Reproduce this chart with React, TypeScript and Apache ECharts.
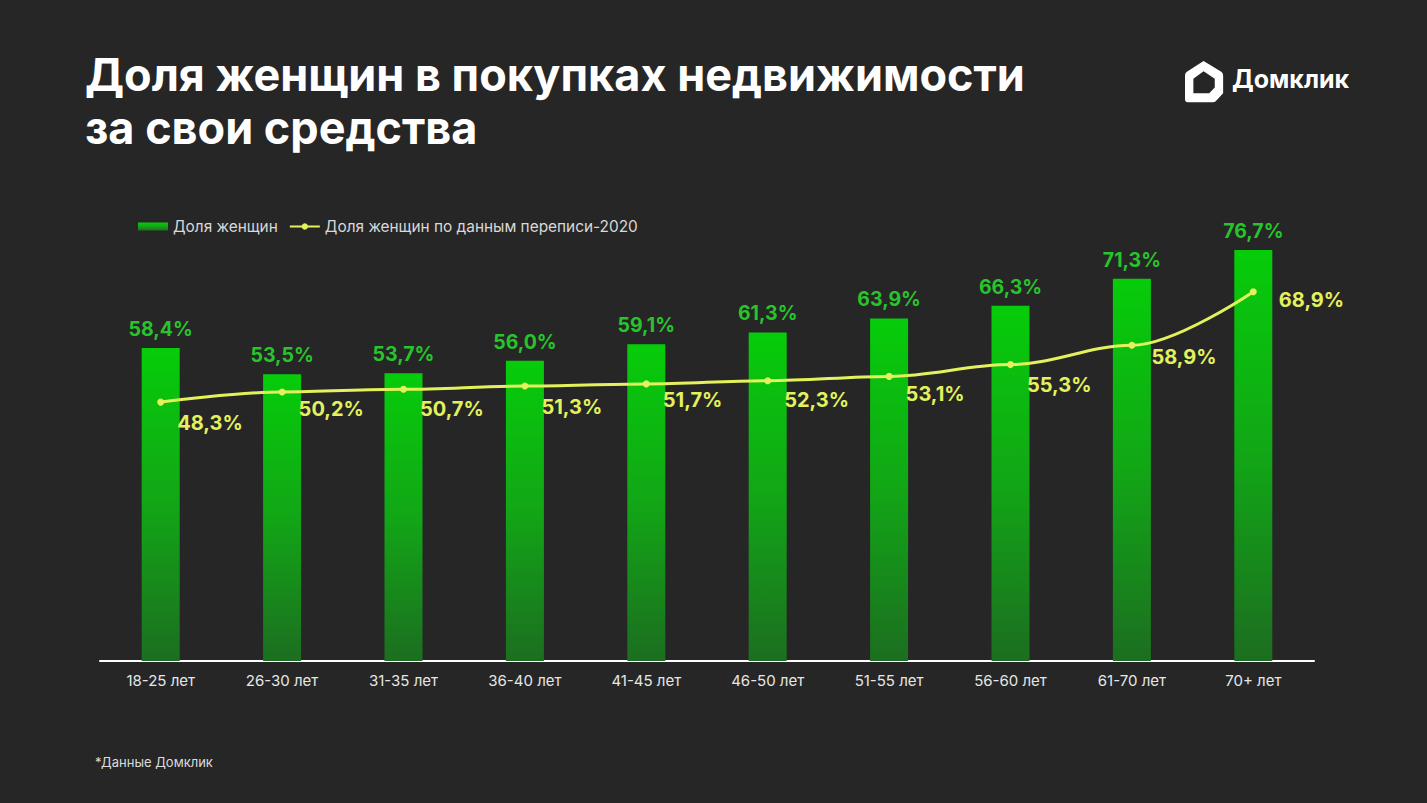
import React, { useEffect, useRef } from "react";
import * as echarts from "echarts";

const categories = ["18-25 лет", "26-30 лет", "31-35 лет", "36-40 лет", "41-45 лет", "46-50 лет", "51-55 лет", "56-60 лет", "61-70 лет", "70+ лет"];
const womenShare = [58.4, 53.5, 53.7, 56.0, 59.1, 61.3, 63.9, 66.3, 71.3, 76.7];
const censusShare = [48.3, 50.2, 50.7, 51.3, 51.7, 52.3, 53.1, 55.3, 58.9, 68.9];
const censusLabelDx = [0, 0, 0, 0, 0, 0, 0, 0, 3, 9];
const censusLabelDy = [21, 17, 20, 21, 16, 19, 18, 20, 12, 8];

const FONT = "Inter, 'Noto Sans', sans-serif";
const fmt = (v: number) => v.toFixed(1).replace(".", ",") + "%";

const LOGO_PATH =
  "M20 0 L39 11 Q41 12 41 15 L41 33 L33 41 Q32 42 30 42 L3 42 Q0 42 0 39 L0 15 Q0 12 2 11 Z " +
  "M9 18 L9 33 L26 33 L32 27 L32 18 L20 10.5 Z";

echarts.graphic.registerShape("domLogo", (echarts.graphic as any).extendPath(LOGO_PATH, {}));

export default function App() {
  const ref = useRef<HTMLDivElement>(null);
  useEffect(() => {
    document.body.style.margin = "0";
    document.body.style.background = "#262626";
    const chart = echarts.init(ref.current!, undefined, { renderer: "svg" });
    const barGrad = new echarts.graphic.LinearGradient(0, 0, 0, 1, [
      { offset: 0, color: "#06cc0a" },
      { offset: 0.5, color: "#12a616" },
      { offset: 1, color: "#1c6e20" },
    ]);
    chart.setOption({
      animation: false,
      backgroundColor: "#262626",
      title: {
        text: "Доля женщин в покупках недвижимости\nза свои средства",
        left: 80,
        top: 43,
        textStyle: { color: "#ffffff", fontSize: 45, fontWeight: 700, fontFamily: FONT, lineHeight: 53 },
      },
      legend: {
        left: 133,
        top: 214,
        itemWidth: 30,
        itemHeight: 8,
        itemGap: 11,
        textStyle: { color: "#d9d9d9", fontSize: 15.4, fontFamily: FONT },
        data: [
          { name: "Доля женщин", icon: "rect" },
          { name: "Доля женщин по данным переписи-2020" },
        ],
      },
      grid: { left: 100, right: 113, top: 125, bottom: 142 },
      xAxis: {
        type: "category",
        data: categories,
        axisLine: { lineStyle: { color: "#ffffff", width: 2 } },
        axisTick: { show: false },
        axisLabel: { color: "#e6e6e6", fontSize: 15, fontFamily: FONT, margin: 12 },
      },
      yAxis: {
        type: "value",
        min: 0,
        max: 100,
        show: false,
        splitLine: { show: false },
      },
      graphic: [
        {
          type: "domLogo",
          x: 1185,
          y: 61,
          scaleX: 0.93,
          scaleY: 0.98,
          style: { fill: "#ffffff" },
        },
        {
          type: "text",
          left: 1232,
          top: 66,
          style: { text: "Домклик", fill: "#ffffff", font: `700 25px ${FONT}` },
        },
        {
          type: "text",
          left: 95,
          top: 755,
          style: { text: "*Данные Домклик", fill: "#dcdcdc", font: `13px ${FONT}` },
        },
      ],
      series: [
        {
          name: "Доля женщин",
          type: "bar",
          data: womenShare,
          barWidth: 38,
          itemStyle: { color: barGrad },
          label: {
            show: true,
            position: "top",
            distance: 9,
            color: "#27c42c",
            fontSize: 19.5,
            fontWeight: 700,
            fontFamily: FONT,
            formatter: (p: any) => fmt(p.value),
          },
          z: 2,
        },
        {
          name: "Доля женщин по данным переписи-2020",
          type: "line",
          smooth: 0.35,
          smoothMonotone: "x",
          data: censusShare.map((v, i) => ({
            value: v,
            label: { offset: [censusLabelDx[i], censusLabelDy[i]] },
          })),
          symbol: "circle",
          symbolSize: 7,
          lineStyle: { color: "#e3f25c", width: 3 },
          itemStyle: { color: "#e3f25c" },
          label: {
            show: true,
            position: "right",
            distance: 13,
            color: "#e3f25c",
            fontSize: 20,
            fontWeight: 700,
            fontFamily: FONT,
            formatter: (p: any) => fmt(p.value),
          },
          z: 3,
        },
      ],
    });
    return () => chart.dispose();
  }, []);
  return <div ref={ref} style={{ width: 1427, height: 803 }} />;
}
